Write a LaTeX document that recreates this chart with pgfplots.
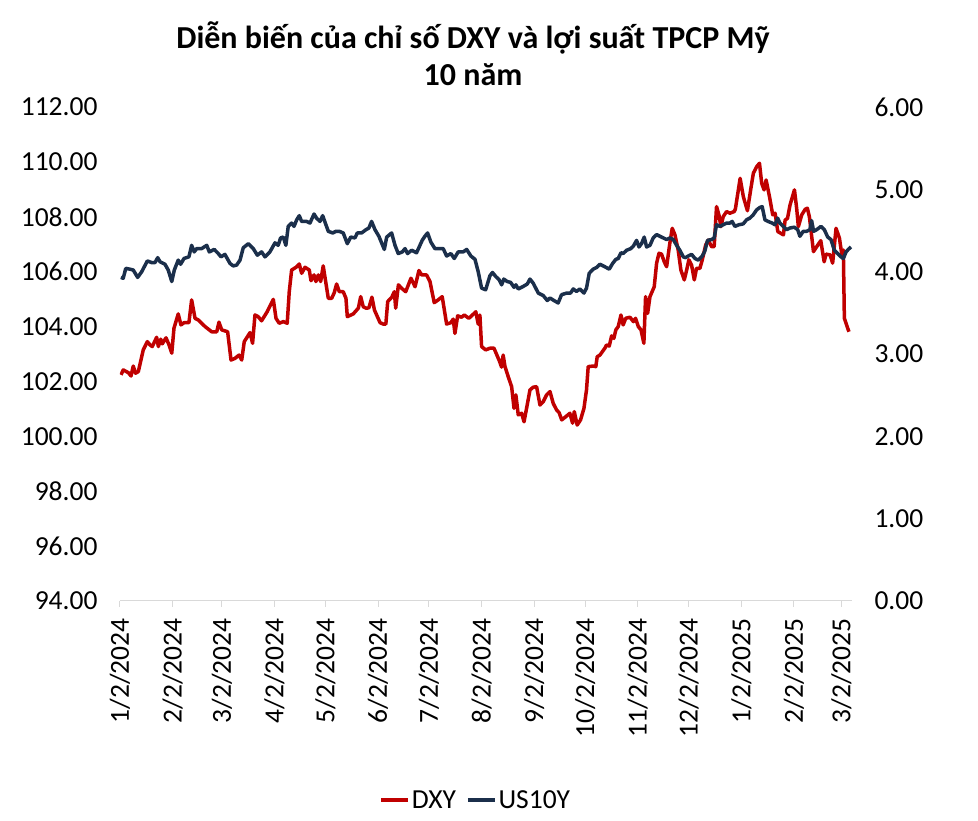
\documentclass[border=0pt]{standalone}
\usepackage{fontspec}
\setmainfont{Carlito}
\usepackage{pgfplots}
\pgfplotsset{compat=1.18}
\definecolor{dxyred}{HTML}{C00000}
\definecolor{usnavy}{HTML}{1B2F4B}
\definecolor{axgray}{HTML}{D9D9D9}
\begin{document}
\begin{tikzpicture}[x=1pt,y=1pt]
\path[use as bounding box] (0,0) rectangle (978,821);
\node[font=\fontsize{32}{38}\selectfont\bfseries] at (473,783) {Diễn biến của chỉ số DXY và lợi suất TPCP Mỹ};
\node[font=\fontsize{32}{38}\selectfont\bfseries] at (473,746) {10 năm};
\begin{axis}[
  at={(120pt,220pt)}, anchor=south west, scale only axis,
  width=732pt, height=494pt,
  xmin=0, xmax=431.2, ymin=94, ymax=112,
  ytick={94,96,...,112},
  xtick={0,31,60,91,121,152,182,213,244,274,305,335,366,397,425},
  xticklabels={1/2/2024,2/2/2024,3/2/2024,4/2/2024,5/2/2024,6/2/2024,7/2/2024,8/2/2024,9/2/2024,10/2/2024,11/2/2024,12/2/2024,1/2/2025,2/2/2025,3/2/2025},
  axis x line*=bottom, axis y line*=left,
  y axis line style={draw=none},
  x axis line style={draw=axgray, line width=1pt, -},
  xtick style={draw=axgray, line width=1pt},
  ytick style={draw=none},
  tick align=outside, major tick length=6pt,
  /pgf/number format/.cd, fixed, fixed zerofill, precision=2, assume math mode=true,
  /pgfplots/.cd,
  yticklabel style={font=\fontsize{27.5}{32}\selectfont, anchor=east, xshift=-13pt},
  xticklabel style={font=\fontsize{27.5}{32}\selectfont, rotate=90, anchor=east, xshift=-8pt},
  legend style={at={(0.486,-0.403)}, anchor=center, draw=none, fill=none, inner sep=0pt,
    font=\fontsize{27.5}{32}\selectfont, /tikz/every even column/.append style={column sep=8pt}},
  legend columns=2,
  legend image code/.code={\draw[#1, line width=3.5pt] (0pt,0pt) -- (27pt,0pt);},
]
\addplot[dxyred, line width=3.5pt, line join=round] table {
x y
0.6 102.24
1.9 102.42
4.9 102.32
6.5 102.20
7.8 102.56
9.2 102.30
10.8 102.36
13.7 103.15
16.1 103.45
17.7 103.33
19.0 103.27
21.6 103.61
22.6 103.27
24.0 103.54
24.9 103.37
27.1 103.59
28.9 103.33
30.5 103.03
31.8 103.94
34.3 104.46
35.9 104.06
37.7 104.14
40.6 104.14
42.2 104.97
44.2 104.30
46.1 104.24
50.1 104.00
54.0 103.81
57.0 103.81
58.3 104.16
59.9 103.88
63.4 103.81
65.4 102.78
67.7 102.84
70.1 102.96
71.7 102.78
73.2 103.45
76.6 103.78
78.1 103.39
79.5 104.42
81.4 104.36
83.4 104.21
86.7 104.54
90.3 104.99
91.9 104.30
93.8 104.12
96.2 104.18
98.5 104.12
99.7 105.27
101.1 106.06
103.7 106.16
105.6 106.28
107.0 105.94
109.0 106.16
111.5 106.06
112.5 105.67
114.3 105.88
115.4 105.64
116.8 105.88
118.2 105.64
119.7 106.21
121.3 105.58
122.7 105.03
124.7 105.03
126.2 105.23
127.6 105.55
129.2 105.27
131.5 105.27
133.1 105.03
133.9 104.36
137.4 104.46
140.4 104.67
141.8 105.09
143.3 104.72
144.9 104.67
146.6 104.68
148.4 105.07
149.9 104.60
153.2 104.14
155.1 104.09
156.6 104.09
157.7 104.91
160.1 105.07
161.6 105.27
162.4 104.67
164.0 105.52
166.0 105.39
168.3 105.27
171.4 105.76
173.8 105.45
176.1 106.04
177.7 105.88
180.6 105.88
182.6 105.64
185.1 104.87
187.4 104.97
189.8 105.09
192.4 104.09
194.9 104.14
196.3 104.27
197.3 103.75
198.9 104.39
201.2 104.34
202.8 104.42
205.5 104.30
207.1 104.39
209.6 104.54
211.0 104.09
212.0 104.42
213.0 103.27
215.4 103.15
217.9 103.21
220.3 103.21
223.4 102.76
224.8 102.52
225.7 102.96
226.8 102.54
228.7 102.17
230.7 101.81
232.1 101.02
233.2 101.51
234.6 100.78
236.6 100.84
238.0 100.53
239.5 101.02
241.5 101.69
243.4 101.79
245.4 101.81
247.4 101.14
249.3 101.26
251.3 101.51
253.3 101.63
255.2 101.20
257.2 100.96
258.7 100.86
260.2 100.60
262.1 100.69
265.0 100.84
266.6 100.48
267.6 100.90
269.3 100.41
271.3 100.60
273.3 101.02
274.8 101.69
275.8 102.54
278.7 102.56
280.3 102.54
281.1 102.90
282.7 102.96
285.6 103.21
286.6 103.33
288.2 103.29
289.6 103.66
290.9 103.57
292.1 103.88
293.5 104.00
295.1 104.42
296.4 104.06
297.9 104.30
300.4 104.34
302.4 104.18
303.7 104.30
305.3 104.00
306.9 103.88
308.6 103.39
309.6 105.09
310.8 104.48
312.2 105.09
314.7 105.45
316.1 106.31
317.5 106.67
319.0 106.64
320.6 106.36
322.0 106.18
323.9 107.04
325.3 107.58
326.9 107.34
328.8 106.79
330.4 106.06
332.4 105.70
333.8 106.06
335.1 106.43
336.7 106.24
338.3 105.70
339.6 106.12
341.6 106.12
343.0 106.43
345.0 106.97
346.5 107.15
348.5 106.91
350.0 106.91
351.4 108.37
352.8 108.07
354.0 107.64
355.3 108.00
357.3 108.19
359.3 108.13
361.8 108.19
362.5 108.28
365.3 109.40
367.2 108.73
369.6 108.22
371.5 108.98
373.1 109.59
375.1 109.83
376.7 109.95
378.0 109.22
379.4 108.98
380.6 109.34
382.6 108.73
384.5 108.07
385.9 108.13
387.5 107.46
389.2 107.40
390.8 107.34
391.8 107.88
393.2 107.94
394.7 108.43
397.3 108.98
398.6 108.31
399.6 107.64
401.6 108.07
403.6 108.27
404.9 108.31
406.1 108.00
406.9 107.58
408.5 106.73
410.4 106.91
412.8 107.13
414.8 106.36
415.9 106.64
418.3 106.61
419.8 106.31
421.8 107.58
423.8 107.22
425.1 106.67
426.1 106.79
426.7 104.30
428.0 104.06
429.4 103.81
};
\addlegendentry{DXY}
\addlegendimage{usnavy, line width=3.5pt}
\addlegendentry{US10Y}
\end{axis}
\begin{axis}[
  at={(120pt,220pt)}, anchor=south west, scale only axis,
  width=732pt, height=494pt,
  xmin=0, xmax=431.2, ymin=0, ymax=6,
  ytick={0,1,...,6},
  axis x line=none, axis y line*=right,
  y axis line style={draw=none},
  ytick style={draw=none},
  /pgf/number format/.cd, fixed, fixed zerofill, precision=2, assume math mode=true,
  /pgfplots/.cd,
  yticklabel style={font=\fontsize{27.5}{32}\selectfont, anchor=west, xshift=19pt},
]
\addplot[usnavy, line width=3.5pt, line join=round] table {
x y
0.5 3.93
1.9 3.92
3.4 4.04
5.9 4.03
7.8 4.02
10.4 3.93
12.8 4.00
16.1 4.13
18.7 4.11
20.6 4.11
22.2 4.17
23.6 4.12
26.5 4.09
28.4 4.02
30.5 3.88
32.0 4.02
34.3 4.14
35.7 4.09
37.7 4.16
40.6 4.18
42.2 4.32
43.7 4.24
45.2 4.28
48.1 4.28
51.1 4.32
52.6 4.24
55.5 4.27
57.9 4.22
59.5 4.18
61.8 4.21
64.8 4.10
66.7 4.07
68.7 4.08
70.7 4.14
72.6 4.29
75.6 4.34
78.5 4.28
80.9 4.20
83.4 4.24
85.4 4.18
88.3 4.24
91.3 4.35
93.2 4.32
94.6 4.41
96.2 4.42
97.7 4.32
99.1 4.55
101.1 4.59
102.5 4.55
104.1 4.63
105.6 4.68
107.0 4.61
110.0 4.61
111.9 4.59
114.3 4.70
115.8 4.65
117.8 4.61
119.4 4.68
121.3 4.57
122.7 4.49
125.3 4.47
127.2 4.49
129.2 4.49
131.5 4.47
133.9 4.34
135.9 4.42
138.4 4.41
139.8 4.47
142.3 4.47
144.9 4.51
146.6 4.53
148.2 4.61
150.2 4.51
152.5 4.43
155.7 4.27
157.1 4.42
160.0 4.47
162.0 4.32
163.9 4.22
166.3 4.24
167.9 4.28
169.4 4.22
171.8 4.26
174.7 4.23
176.7 4.32
178.0 4.38
179.6 4.43
181.2 4.47
183.1 4.36
185.5 4.28
188.4 4.28
190.4 4.28
192.4 4.19
194.9 4.22
196.9 4.16
199.2 4.24
202.2 4.24
204.2 4.27
206.7 4.19
209.1 4.15
211.0 4.00
213.0 3.80
215.4 3.78
217.9 3.95
219.4 3.99
221.4 3.94
223.4 3.90
224.8 3.84
226.1 3.91
228.1 3.88
230.1 3.87
232.1 3.81
233.2 3.84
234.6 3.79
237.5 3.82
239.9 3.85
241.5 3.91
243.4 3.86
246.4 3.74
249.3 3.71
251.7 3.65
253.3 3.68
255.6 3.65
258.1 3.62
260.1 3.72
263.1 3.74
265.4 3.74
267.0 3.79
268.9 3.76
270.9 3.79
273.3 3.74
274.8 3.80
276.4 3.98
278.7 4.03
280.7 4.05
282.7 4.09
285.6 4.06
288.2 4.03
290.2 4.10
292.1 4.15
293.5 4.16
295.1 4.23
296.4 4.22
298.4 4.26
300.9 4.28
302.4 4.31
304.3 4.38
305.7 4.30
307.2 4.34
308.8 4.42
310.2 4.30
312.2 4.32
314.1 4.41
316.1 4.45
319.0 4.42
322.0 4.39
323.9 4.41
325.9 4.39
327.9 4.32
329.8 4.26
331.8 4.18
333.2 4.17
334.7 4.19
336.7 4.21
338.7 4.16
340.6 4.14
343.0 4.19
344.5 4.25
346.1 4.38
348.5 4.39
350.0 4.41
351.4 4.57
353.4 4.55
355.3 4.57
357.3 4.59
359.3 4.59
360.6 4.61
362.2 4.55
364.6 4.57
367.1 4.58
369.1 4.63
371.0 4.65
373.0 4.69
375.0 4.75
376.9 4.78
378.3 4.79
379.9 4.63
381.8 4.61
384.2 4.59
385.8 4.57
387.4 4.65
388.7 4.59
390.7 4.55
392.7 4.51
394.6 4.53
397.2 4.54
399.2 4.51
400.5 4.43
402.5 4.49
404.5 4.49
406.4 4.51
407.4 4.62
408.6 4.49
410.4 4.51
412.9 4.55
414.9 4.51
416.9 4.42
418.8 4.39
420.8 4.26
423.2 4.21
424.7 4.18
426.1 4.16
427.7 4.24
429.0 4.27
430.6 4.30
};
\end{axis}
\end{tikzpicture}
\end{document}
